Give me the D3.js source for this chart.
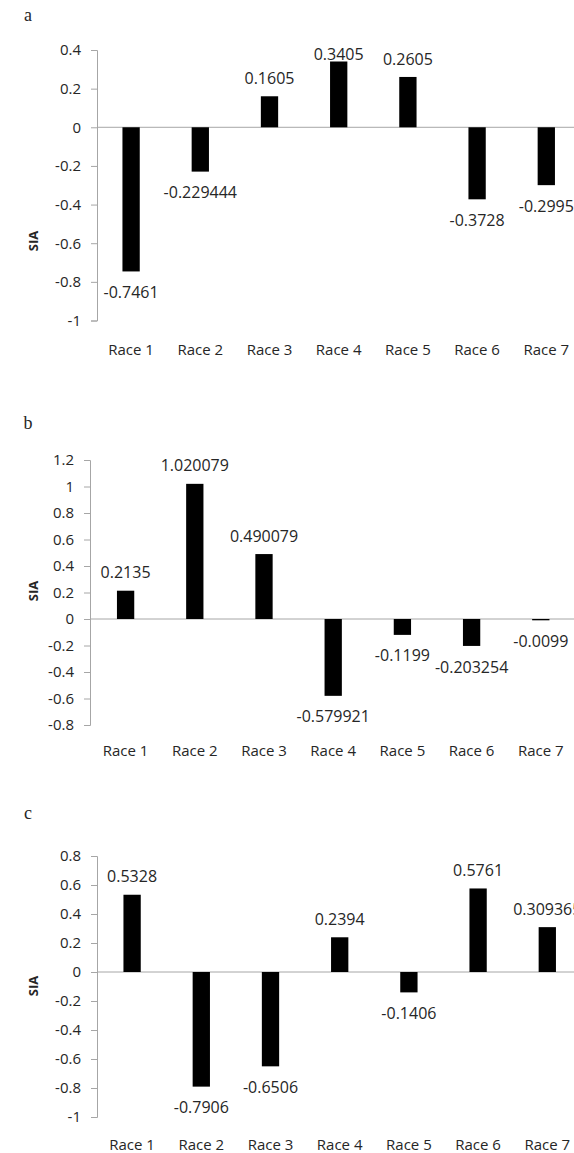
<!DOCTYPE html>
<html>
<head>
<meta charset="utf-8">
<script src="https://cdn.jsdelivr.net/npm/d3@7"></script>
<style>
  body { margin: 0; background: #fff; }
  svg { display: block; }
  text { font-family: "Open Sans", sans-serif; fill: #262626; }
</style>
</head>
<body>
<div id="chart"></div>
<script>
// categories shared by all three panels
var races = ["Race 1", "Race 2", "Race 3", "Race 4", "Race 5", "Race 6", "Race 7"];

// SIA values
var valuesA = [-0.7461, -0.229444, 0.1605, 0.3405, 0.2605, -0.3728, -0.2995];
var valuesB = [0.2135, 1.020079, 0.490079, -0.579921, -0.1199, -0.203254, -0.0099];
var valuesC = [0.5328, -0.7906, -0.6506, 0.2394, -0.1406, 0.5761, 0.309365];

// y tick labels
var ticksA = [0.4, 0.2, 0, -0.2, -0.4, -0.6, -0.8, -1];
var ticksB = [1.2, 1, 0.8, 0.6, 0.4, 0.2, 0, -0.2, -0.4, -0.6, -0.8];
var ticksC = [0.8, 0.6, 0.4, 0.2, 0, -0.2, -0.4, -0.6, -0.8, -1];

var width = 574, height = 1153;

var svg = d3.select('#chart')
  .append('svg')
  .attr('width', width)
  .attr('height', height);

var panels = [
  { letter: "a", values: valuesA, ticks: ticksA, axisX: 97, x0: 96.5, top: 50, bottom: 320.5, letterY: 15, catY: 350, siaY: 241 },
  { letter: "b", values: valuesB, ticks: ticksB, axisX: 90, x0: 91, top: 460, bottom: 725, letterY: 423, catY: 751, siaY: 591 },
  { letter: "c", values: valuesC, ticks: ticksC, axisX: 97, x0: 97.5, top: 856, bottom: 1117, letterY: 813, catY: 1145, siaY: 986 }
];

var step = 69.2;

panels.forEach(function(p) {
  var g = svg.append('g');

  var y = d3.scaleLinear()
    .domain([d3.min(p.ticks), d3.max(p.ticks)])
    .range([p.bottom, p.top]);

  var x = d3.scaleBand()
    .domain(races)
    .range([p.x0, p.x0 + step * races.length])
    .paddingInner(0.75)
    .paddingOuter(0.375);

  // panel letter
  g.append('text')
    .attr('x', 28)
    .attr('y', p.letterY)
    .attr('dy', '0.35em')
    .attr('text-anchor', 'middle')
    .style('font-family', '"Liberation Serif", serif')
    .style('font-size', '18px')
    .text(p.letter);

  // y axis
  var yAxis = d3.axisLeft(y)
    .tickValues(p.ticks)
    .tickSize(6)
    .tickPadding(10)
    .tickFormat(function(d) { return String(d); });

  var ay = g.append('g')
    .attr('transform', 'translate(' + p.axisX + ',0)')
    .call(yAxis);
  ay.select('.domain').attr('stroke', '#a6a6a6');
  ay.selectAll('.tick line').attr('stroke', '#a6a6a6');
  ay.selectAll('.tick text')
    .style('font-family', '"Open Sans", sans-serif')
    .style('font-size', '15px')
    .attr('fill', '#262626');

  // zero line
  g.append('line')
    .attr('x1', p.axisX)
    .attr('x2', width)
    .attr('y1', y(0))
    .attr('y2', y(0))
    .attr('stroke', '#a6a6a6');

  // SIA title
  g.append('text')
    .attr('transform', 'translate(33,' + p.siaY + ') rotate(-90)')
    .attr('text-anchor', 'middle')
    .attr('dy', '0.35em')
    .style('font-size', '13px')
    .style('font-weight', 'bold')
    .text('SIA');

  // bars
  g.selectAll('rect')
    .data(p.values)
    .enter()
    .append('rect')
    .attr('x', function(d, i) { return x(races[i]); })
    .attr('width', x.bandwidth())
    .attr('y', function(d) { return y(Math.max(0, d)); })
    .attr('height', function(d) { return Math.abs(y(d) - y(0)); })
    .attr('fill', '#000');

  // data labels, outside end like Excel
  g.selectAll('text.val')
    .data(p.values)
    .enter()
    .append('text')
    .attr('class', 'val')
    .attr('x', function(d, i) { return x(races[i]) + x.bandwidth() / 2; })
    .attr('y', function(d) {
      if (d >= 0) return Math.max(y(d) - 18, p.top + 4);
      return y(d) + 21;
    })
    .attr('dy', '0.35em')
    .attr('text-anchor', 'middle')
    .style('font-size', '16px')
    .text(function(d) { return String(d); });

  // category labels
  g.selectAll('text.cat')
    .data(races)
    .enter()
    .append('text')
    .attr('class', 'cat')
    .attr('x', function(d) { return x(d) + x.bandwidth() / 2; })
    .attr('y', p.catY)
    .attr('dy', '0.35em')
    .attr('text-anchor', 'middle')
    .style('font-size', '15px')
    .text(function(d) { return d; });
});
</script>
</body>
</html>
